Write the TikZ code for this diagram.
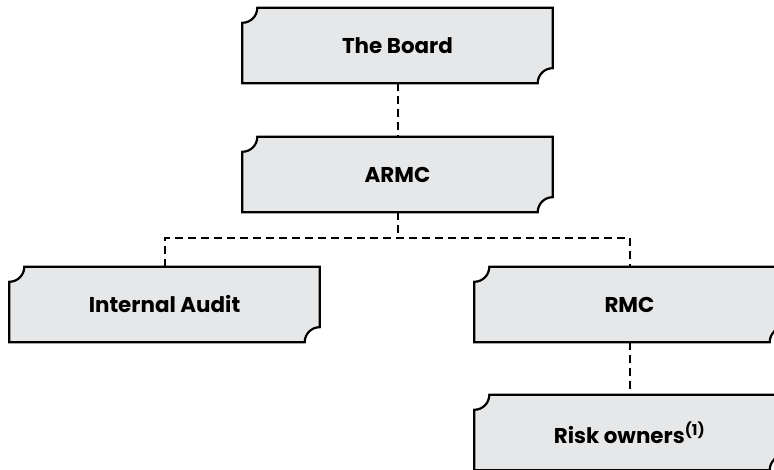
\documentclass[tikz,border=0pt]{standalone}
\usepackage{fontspec}
\setmainfont{Poppins}
\usetikzlibrary{backgrounds}

\definecolor{boxgray}{RGB}{230,231,232}

\tikzset{
    unit/.style = {minimum width=310bp, minimum height=75bp, inner sep=0pt,
        font=\fontsize{21.5}{24}\selectfont\bfseries},
    notch/.style = {draw=black, line width=2.2bp, fill=boxgray},
    link/.style = {draw=black, line width=2bp, dash pattern=on 8bp off 5bp}
}

\begin{document}
\begin{tikzpicture}[x=1bp, y=1bp]

        \def\r{15bp}

        \useasboundingbox (0, 0) rectangle (774, 470);
        \clip (0, 0) rectangle (774, 470);

        \node[unit] (board) at (397.5, 424.5) {The Board};
        \node[unit] (armc) at (397.5, 295.5) {ARMC};
        \node[unit] (audit) at (164.5, 165.5) {Internal Audit};
        \node[unit] (rmc) at (629.5, 165.5) {RMC};
        \node[unit] (owners) at (629.5, 37.5) {Risk owners\textsuperscript{(1)}};

        \begin{scope}[on background layer]
            \foreach \n in {board, armc, audit, rmc, owners} {
                % box with two notched corners
                \path[notch] ([yshift=-\r]\n.north west) arc[start angle=270, end angle=360, radius=\r]
                    -- (\n.north east) -- ([yshift=\r]\n.south east)
                    arc[start angle=90, end angle=180, radius=\r]
                    -- (\n.south west) -- cycle;
            }
        \end{scope}

        \coordinate (bus) at (397.5, 232);

        \draw[link] (board.south) -- (armc.north);
        \draw[link] (armc.south) -- (bus);
        \draw[link] (audit.north) |- (bus) -| (rmc.north);
        \draw[link] (rmc.south) -- (owners.north);

    \end{tikzpicture}
\end{document}
